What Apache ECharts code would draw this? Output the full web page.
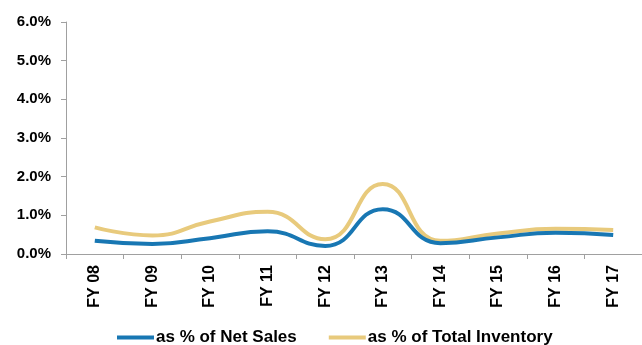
<!DOCTYPE html>
<html>
<head>
<meta charset="utf-8">
<script src="https://cdn.jsdelivr.net/npm/echarts@6/dist/echarts.min.js"></script>
<style>
  html, body { margin: 0; padding: 0; background: #fff; }
  #chart { width: 642px; height: 345px; }
</style>
</head>
<body>
<div id="chart"></div>
<script>
// Fiscal years on the category axis
const years = ['FY 08', 'FY 09', 'FY 10', 'FY 11', 'FY 12', 'FY 13', 'FY 14', 'FY 15', 'FY 16', 'FY 17'];
// Ratios in percent
const netSalesPct = [0.34, 0.26, 0.41, 0.59, 0.21, 1.16, 0.28, 0.43, 0.55, 0.49];
const inventoryPct = [0.69, 0.48, 0.84, 1.09, 0.38, 1.81, 0.34, 0.53, 0.65, 0.62];
const seriesNames = ['as % of Net Sales', 'as % of Total Inventory'];
const yTicks = { min: 0, max: 6, step: 1 };

const BLUE = '#1877b3';
const GOLD = '#e8ca7c';
const AXIS = '#a0a0a0';
const FONT = '"Liberation Sans", Arial, sans-serif';

const chart = echarts.init(document.getElementById('chart'), null, { renderer: 'canvas' });
chart.setOption({
  animation: false,
  backgroundColor: '#ffffff',
  grid: { left: 66, right: -10, top: 22, bottom: 91, containLabel: false },
  legend: {
    top: 329,
    left: 117,
    padding: 0,
    itemWidth: 37,
    itemHeight: 4,
    itemGap: 32,
    icon: 'rect',
    textStyle: { fontFamily: FONT, fontWeight: 'bold', fontSize: 17, color: '#000', padding: [0, 0, 0, -3] },
    data: seriesNames
  },
  xAxis: {
    type: 'category',
    data: years,
    boundaryGap: true,
    axisLine: { lineStyle: { color: AXIS, width: 1 } },
    axisTick: { show: true, length: 5, alignWithLabel: false, lineStyle: { color: AXIS } },
    axisLabel: {
      rotate: 90,
      margin: 11,
      fontFamily: FONT,
      fontWeight: 'bold',
      fontSize: 16,
      color: '#000',
      interval: 0
    },
    splitLine: { show: false }
  },
  yAxis: {
    type: 'value',
    min: yTicks.min,
    max: yTicks.max,
    interval: yTicks.step,
    axisLine: { show: true, lineStyle: { color: AXIS, width: 1 } },
    axisTick: { show: true, length: 5, lineStyle: { color: AXIS } },
    axisLabel: {
      margin: 15,
      fontFamily: FONT,
      fontWeight: 'bold',
      fontSize: 15,
      color: '#000',
      formatter: v => v.toFixed(1) + '%'
    },
    splitLine: { show: false }
  },
  series: [
    {
      name: seriesNames[0],
      type: 'line',
      data: netSalesPct,
      smooth: 0.5,
      showSymbol: false,
      symbol: 'none',
      lineStyle: { color: BLUE, width: 4 },
      itemStyle: { color: BLUE },
      z: 3
    },
    {
      name: seriesNames[1],
      type: 'line',
      data: inventoryPct,
      smooth: 0.5,
      showSymbol: false,
      symbol: 'none',
      lineStyle: { color: GOLD, width: 4 },
      itemStyle: { color: GOLD },
      z: 2
    }
  ]
});
</script>
</body>
</html>
